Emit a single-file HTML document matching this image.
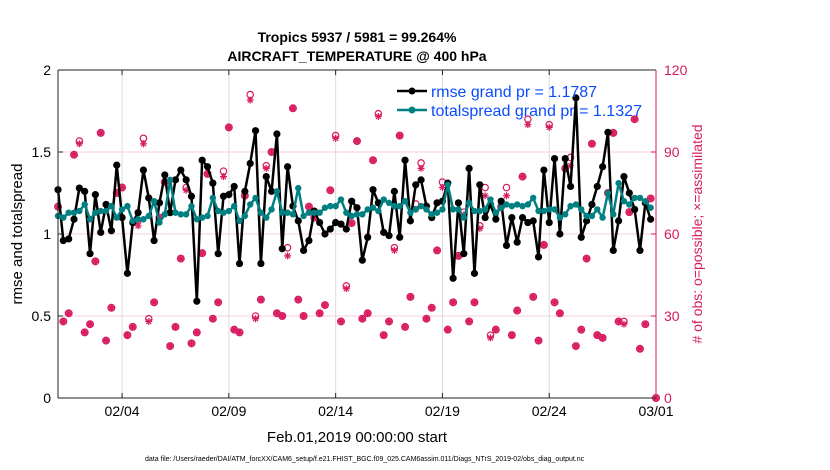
<!DOCTYPE html>
<html><head><meta charset="utf-8"><style>
html,body{margin:0;padding:0;background:#fff;width:830px;height:470px;overflow:hidden}
svg{display:block;font-family:"Liberation Sans",Arial,sans-serif}
</style></head><body>
<svg id="chart" width="830" height="470" viewBox="0 0 830 470" xmlns="http://www.w3.org/2000/svg">
<rect width="830" height="470" fill="#fff"/>
<text x="357" y="42" text-anchor="middle" font-size="14" font-weight="bold">Tropics 5937 / 5981 = 99.264%</text>
<text x="357" y="61" text-anchor="middle" font-size="14" font-weight="bold">AIRCRAFT_TEMPERATURE @ 400 hPa</text>
<g id="grid"></g>
<g id="obs"></g>
<g id="series"></g>
<g id="axes"></g>
<g>
<line x1="397" y1="91" x2="427" y2="91" stroke="#000" stroke-width="2.5"/>
<circle cx="412" cy="91" r="3.5" fill="#000"/>
<text x="431" y="97" font-size="16" fill="#0a4cff" textLength="166" lengthAdjust="spacingAndGlyphs">rmse grand pr = 1.1787</text>
<line x1="397" y1="110" x2="427" y2="110" stroke="#008080" stroke-width="2.5"/>
<circle cx="412" cy="110" r="3.5" fill="#008080"/>
<text x="431" y="116" font-size="16" fill="#0a4cff" textLength="211" lengthAdjust="spacingAndGlyphs">totalspread grand pr = 1.1327</text>
</g>
<text transform="translate(22,234) rotate(-90)" text-anchor="middle" font-size="15">rmse and totalspread</text>
<text transform="translate(702,234) rotate(-90)" text-anchor="middle" font-size="14" fill="#d81b60"># of obs: o=possible; ×=assimilated</text>
<text x="357" y="442" text-anchor="middle" font-size="15">Feb.01,2019 00:00:00 start</text>
<text x="145" y="461" font-size="7">data file: /Users/raeder/DAI/ATM_forcXX/CAM6_setup/f.e21.FHIST_BGC.f09_025.CAM6assim.011/Diags_NTrS_2019-02/obs_diag_output.nc</text>
</svg>
<script>
const rmse=[1.27,0.96,0.97,1.09,1.28,1.26,0.88,1.24,1.01,1.18,1.02,1.42,1.10,0.76,1.07,1.13,1.39,1.22,0.96,1.19,1.36,1.13,1.33,1.39,1.33,1.23,0.59,1.45,1.41,
1.31,0.88,1.23,1.24,1.29,0.82,1.26,1.43,1.63,0.82,1.35,1.26,1.61,0.91,1.41,1.17,1.08,0.90,0.96,1.14,1.07,1.00,1.03,1.07,1.06,1.03,1.20,
1.16,0.84,0.98,1.27,1.19,1.01,0.99,1.26,0.98,1.45,1.08,1.30,1.33,1.17,1.10,1.19,1.20,1.31,0.73,1.19,0.88,1.40,0.76,1.30,1.10,1.18,1.09,1.20,
0.93,1.10,0.95,1.10,1.07,1.08,0.86,1.39,1.07,1.46,1.00,1.46,1.29,1.83,0.98,1.08,1.18,1.29,1.41,1.62,0.90,1.08,1.35,1.25,1.15,0.90,1.19,1.09];
const spread=[1.11,1.10,1.13,1.13,1.14,1.18,1.09,1.13,1.14,1.14,1.17,1.10,1.15,1.17,1.08,1.09,1.09,1.11,1.20,1.07,1.12,1.33,1.13,1.12,1.12,1.17,1.09,1.10,1.11,
1.22,1.14,1.13,1.14,1.17,1.08,1.11,1.18,1.22,1.13,1.10,1.15,1.26,1.13,1.13,1.12,1.28,1.11,1.13,1.13,1.13,1.16,1.17,1.17,1.21,1.13,1.11,
1.12,1.12,1.15,1.16,1.14,1.21,1.19,1.17,1.17,1.20,1.13,1.15,1.17,1.15,1.12,1.13,1.15,1.30,1.15,1.15,1.10,1.19,1.14,1.14,1.15,1.21,1.13,1.16,
1.18,1.17,1.18,1.17,1.18,1.22,1.14,1.14,1.15,1.15,1.10,1.12,1.17,1.18,1.15,1.11,1.11,1.15,1.10,1.25,1.12,1.31,1.20,1.18,1.22,1.22,1.20,1.16];
const possible=[70,28,31,89,94,24,27,50,97,21,33,75,77,23,26,65,95,29,35,66,79,19,26,51,77,20,24,53,82,
29,35,83,99,25,24,74,111,30,36,85,90,31,30,55,106,36,30,70,66,31,34,76,96,28,41,64,
94,29,31,87,104,23,28,55,96,26,37,71,86,29,33,54,79,25,35,52,68,28,35,63,77,23,25,70,
77,23,32,81,102,37,21,56,100,35,31,84,88,19,25,51,93,23,22,75,97,28,28,68,102,18,27,73,0];
const assimilated=[70,28,31,89,93,24,27,50,97,21,33,75,77,23,26,63,93,28,35,66,79,19,26,51,76,20,24,53,82,
29,35,81,99,25,24,74,109,29,36,84,90,31,30,52,106,36,30,70,66,31,34,76,95,28,40,64,
94,29,31,87,103,23,28,54,96,26,37,69,84,29,33,54,77,25,35,52,67,28,35,62,74,22,25,70,
74,23,32,81,100,37,21,56,99,35,31,84,85,19,25,51,93,23,22,75,97,28,27,68,102,18,27,73,0];
const dateTicks=["02/04","02/09","02/14","02/19","02/24","03/01"];
const dateTickDays=[3,8,13,18,23,28];
const yTicks=[0,0.5,1,1.5,2];
const y2Ticks=[0,30,60,90,120];

const NS="http://www.w3.org/2000/svg";
const L=58,R=656,T=70,B=398,PINK="#d81b60";
const xDay=d=>L+(R-L)*d/28;
const xIdx=i=>xDay(i*0.25);
const yL=v=>B-(B-T)*v/2;
const yR=v=>B-(B-T)*v/120;
function mk(tag,attrs,parent){const e=document.createElementNS(NS,tag);for(const k in attrs)e.setAttribute(k,attrs[k]);parent.appendChild(e);return e;}
const grid=document.getElementById('grid'),axes=document.getElementById('axes'),obs=document.getElementById('obs'),ser=document.getElementById('series');
mk('rect',{x:L,y:T,width:R-L,height:B-T,fill:'#fff'},grid);
dateTickDays.forEach((d,i)=>{
  const g=mk('line',{x1:xDay(d),x2:xDay(d),y1:T,y2:B,stroke:'#dcdcdc','stroke-width':1},grid);
  
  
  mk('line',{x1:xDay(d),x2:xDay(d),y1:B,y2:B-5,stroke:'#222'},axes);
  mk('line',{x1:xDay(d),x2:xDay(d),y1:T,y2:T+5,stroke:'#222'},axes);
  const t=mk('text',{x:xDay(d),y:416,'text-anchor':'middle','font-size':14},axes);
  t.textContent=dateTicks[i];
  
  
});
y2Ticks.forEach(v=>{
  if(v>0&&v<120){const g=mk('line',{x1:L,x2:R,y1:yR(v),y2:yR(v),stroke:'#f7cfe0','stroke-width':1},grid);
  
  }
  mk('line',{x1:R,x2:R-5,y1:yR(v),y2:yR(v),stroke:PINK},axes);
  const t=mk('text',{x:664,y:yR(v)+5,'font-size':14,fill:PINK},axes);
  t.textContent=v;
  
  
});
yTicks.forEach(v=>{
  mk('line',{x1:L,x2:L+5,y1:yL(v),y2:yL(v),stroke:'#222'},axes);
  const t=mk('text',{x:51,y:yL(v)+5,'text-anchor':'end','font-size':14},axes);
  t.textContent=v;
  
  
});
mk('line',{x1:L,x2:R,y1:T,y2:T,stroke:'#222'},axes);
mk('line',{x1:L,x2:R,y1:B,y2:B,stroke:'#222'},axes);
mk('line',{x1:L,x2:L,y1:T,y2:B,stroke:'#222'},axes);
mk('line',{x1:R,x2:R,y1:T,y2:B,stroke:PINK},axes);

function star(g,x,y,r,col){
  for(let a=0;a<4;a++){const t=a*Math.PI/4;mk('line',{x1:x-r*Math.cos(t),y1:y-r*Math.sin(t),x2:x+r*Math.cos(t),y2:y+r*Math.sin(t),stroke:col,'stroke-width':1.2},g);}
}
possible.forEach((p,i)=>{
  const x=xIdx(i);
  const a=assimilated[i];
  const g=mk('g',{},obs);
  
  
  if(Math.abs(p-a)>=1){
    mk('circle',{cx:x,cy:yR(p),r:3.2,fill:'none',stroke:PINK,'stroke-width':1.2},g);
    star(g,x,yR(a),3.5,PINK);
  } else {
    mk('circle',{cx:x,cy:yR(p),r:3.4,fill:PINK,'fill-opacity':0.7,stroke:PINK,'stroke-width':1.2},g);
    star(g,x,yR(a),3.6,PINK);
  }
});
function series(vals,col,name,r){
  const pl=mk('polyline',{points:vals.map((v,i)=>xIdx(i)+','+yL(v)).join(' '),fill:'none',stroke:col,'stroke-width':2.5,'stroke-linejoin':'round'},ser);
  
  
  vals.forEach((v,i)=>{
    const c=mk('circle',{cx:xIdx(i),cy:yL(v),r:r,fill:col},ser);
    
    
  });
}
series(rmse,'#000','rmse',3.6);
series(spread,'#008080','totalspread',3.2);
</script>
</body></html>
